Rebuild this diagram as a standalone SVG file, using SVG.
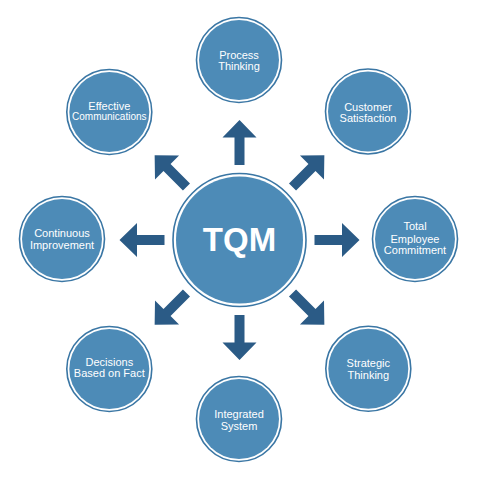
<svg xmlns="http://www.w3.org/2000/svg" xmlns:xlink="http://www.w3.org/1999/xlink" width="478" height="480" viewBox="0 0 478 480">
  <style>
    .ring { fill: #ffffff; stroke: #3a76a4; stroke-width: 1.6; }
    .core { fill: #4d8bb7; }
    .lbl { font-family: "Liberation Sans", Arial, sans-serif; font-size: 11px; fill: #ffffff; text-anchor: middle; }
    .big { font-family: "Liberation Sans", Arial, sans-serif; font-size: 33px; font-weight: bold; fill: #ffffff; text-anchor: middle; }
    .arrow { fill: #2b5b86; }
  </style>
  <defs>
    <path id="arr" d="M0,-120 L17,-102.5 L5,-102.5 L5,-75 L-5,-75 L-5,-102.5 L-17,-102.5 Z"/>
  </defs>
  <rect width="478" height="480" fill="#ffffff"/>
  <g id="connectors" class="arrow" transform="translate(239.5,240)">
    <use xlink:href="#arr" href="#arr"/>
    <use xlink:href="#arr" href="#arr" transform="rotate(45)"/>
    <use xlink:href="#arr" href="#arr" transform="rotate(90)"/>
    <use xlink:href="#arr" href="#arr" transform="rotate(135)"/>
    <use xlink:href="#arr" href="#arr" transform="rotate(180)"/>
    <use xlink:href="#arr" href="#arr" transform="rotate(225)"/>
    <use xlink:href="#arr" href="#arr" transform="rotate(270)"/>
    <use xlink:href="#arr" href="#arr" transform="rotate(315)"/>
  </g>
  <g id="tqm">
    <circle class="ring" cx="239.5" cy="240" r="66.5"/>
    <circle class="core" cx="239.5" cy="240" r="63.5"/>
    <text class="big" x="239.5" y="251">TQM</text>
  </g>
  <g id="process-thinking">
    <circle class="ring" cx="239" cy="60" r="42.5"/>
    <circle class="core" cx="239" cy="60" r="40"/>
    <text class="lbl" x="239" y="58.5">Process</text>
    <text class="lbl" x="239" y="70">Thinking</text>
  </g>
  <g id="customer-satisfaction">
    <circle class="ring" cx="368" cy="111.5" r="42.5"/>
    <circle class="core" cx="368" cy="111.5" r="40"/>
    <text class="lbl" x="368" y="110.5">Customer</text>
    <text class="lbl" x="368" y="122">Satisfaction</text>
  </g>
  <g id="total-employee-commitment">
    <circle class="ring" cx="415" cy="239" r="42.5"/>
    <circle class="core" cx="415" cy="239" r="40"/>
    <text class="lbl" x="415" y="230">Total</text>
    <text class="lbl" x="415" y="242.5">Employee</text>
    <text class="lbl" x="415" y="254">Commitment</text>
  </g>
  <g id="strategic-thinking">
    <circle class="ring" cx="368.3" cy="368.7" r="42.5"/>
    <circle class="core" cx="368.3" cy="368.7" r="40"/>
    <text class="lbl" x="368.3" y="367">Strategic</text>
    <text class="lbl" x="368.3" y="379">Thinking</text>
  </g>
  <g id="integrated-system">
    <circle class="ring" cx="239" cy="419" r="42.5"/>
    <circle class="core" cx="239" cy="419" r="40"/>
    <text class="lbl" x="239" y="418">Integrated</text>
    <text class="lbl" x="239" y="430">System</text>
  </g>
  <g id="decisions-based-on-fact">
    <circle class="ring" cx="109.3" cy="369" r="42.5"/>
    <circle class="core" cx="109.3" cy="369" r="40"/>
    <text class="lbl" x="109.3" y="365.5">Decisions</text>
    <text class="lbl" x="109.3" y="377">Based on Fact</text>
  </g>
  <g id="continuous-improvement">
    <circle class="ring" cx="62" cy="239" r="42.5"/>
    <circle class="core" cx="62" cy="239" r="40"/>
    <text class="lbl" x="62" y="237">Continuous</text>
    <text class="lbl" x="62" y="249">Improvement</text>
  </g>
  <g id="effective-communications">
    <circle class="ring" cx="109.3" cy="112" r="42.5"/>
    <circle class="core" cx="109.3" cy="112" r="40"/>
    <text class="lbl" x="109.3" y="109.5">Effective</text>
    <text class="lbl" x="109.3" y="119.5" style="font-size:10px">Communications</text>
  </g>
</svg>
